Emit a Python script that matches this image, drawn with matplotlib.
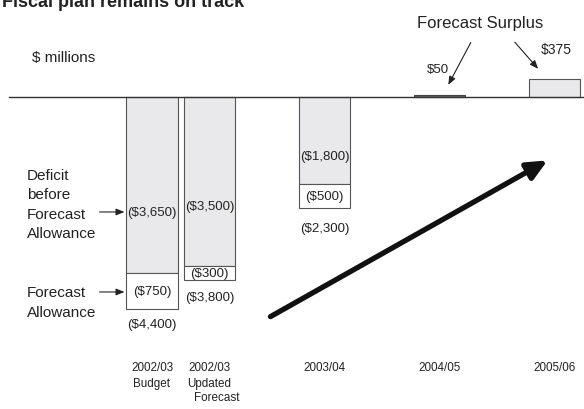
import numpy as np
import matplotlib
matplotlib.use('Agg')
import matplotlib.pyplot as plt

plt.rcParams['font.family'] = ['Liberation Sans', 'DejaVu Sans']

# Data ($ millions)
periods = ['2002/03\nBudget', '2002/03\nUpdated', '2003/04', '2004/05', '2005/06']
positions = [0, 0.5, 1.5, 2.5, 3.5]
deficit = [3650, 3500, 1800, 0, 0]
allowance = [750, 300, 500, 0, 0]
surplus = [0, 0, 0, 50, 375]

deficit_labels = ['($3,650)', '($3,500)', '($1,800)']
deficit_label_y = [-2386, -2262, -1224]
allowance_labels = ['($750)', '($300)', '($500)']
total_labels = ['($4,400)', '($3,800)', '($2,300)']
total_label_y = [-4710, -4150, -2718]
surplus_labels = ['', '', '', '$50', '$375']

fig = plt.figure(figsize=(5.84, 4.10), dpi=100)
ax = fig.add_axes([0, 0, 1, 1])
ax.set_xlim(-1.3217, 3.7565)
ax.set_ylim(-6474, 2033)
ax.axis('off')

w = 0.45
grey = '#e9e9ec'
edge = '#555555'
txt = '#222222'

# baseline
ax.plot([-1.243, 3.7565], [0, 0], color='#333333', lw=1.0, zorder=3)

dv = -np.array(deficit)
av = -np.array(allowance)
for i in range(3):
    ax.bar(positions[i], dv[i], width=w, color=grey, edgecolor=edge, lw=0.8, zorder=2)
    ax.bar(positions[i], av[i], bottom=dv[i], width=w, color='white', edgecolor=edge, lw=0.8, zorder=2)
    ax.text(positions[i], deficit_label_y[i], deficit_labels[i], ha='center', va='center', fontsize=9.5, color=txt)
    ax.text(positions[i], dv[i] + av[i] / 2, allowance_labels[i], ha='center', va='center', fontsize=9.5, color=txt)
    ax.text(positions[i], total_label_y[i], total_labels[i], ha='center', va='center', fontsize=9.5, color=txt)

# surpluses
ax.bar(positions[3], surplus[3], width=w, color='#666666', edgecolor='#444444', lw=0.8, zorder=2)
ax.bar(positions[4], surplus[4], width=w, color=grey, edgecolor=edge, lw=0.8, zorder=2)
ax.text(2.49, 581, surplus_labels[3], ha='center', va='center', fontsize=9.5, color=txt)
ax.text(3.52, 996, surplus_labels[4], ha='center', va='center', fontsize=10, color=txt)

ax.text(2.85, 1540, 'Forecast Surplus', ha='center', va='center', fontsize=12, color=txt)
thin = dict(arrowstyle='-|>,head_length=0.5,head_width=0.2', color=txt, lw=0.8)
ax.annotate('', xy=(2.565, 200), xytext=(2.783, 1180), arrowprops=thin)
ax.annotate('', xy=(3.374, 540), xytext=(3.139, 1180), arrowprops=thin)

# left annotations
ax.text(-1.09, -2220, 'Deficit\nbefore\nForecast\nAllowance', ha='left', va='center',
        fontsize=11, color=txt, linespacing=1.47)
ax.annotate('', xy=(-0.215, -2386), xytext=(-0.48, -2386), arrowprops=thin)
ax.text(-1.09, -4254, 'Forecast\nAllowance', ha='left', va='center',
        fontsize=11, color=txt, linespacing=1.47)
ax.annotate('', xy=(-0.215, -4046), xytext=(-0.48, -4046), arrowprops=thin)

ax.text(-1.04, 820, '$ millions', ha='left', va='center', fontsize=11, color=txt)

# period labels
for p, lab in zip(positions, periods):
    ax.text(p, -5480, lab, ha='center', va='top', fontsize=8.4, color=txt, linespacing=1.45)
ax.text(0.56, -6110, 'Forecast', ha='center', va='top', fontsize=8.4, color=txt)

# big trend arrow
ax.annotate('', xy=(3.461, -1287), xytext=(1.009, -4586),
            arrowprops=dict(arrowstyle='-|>,head_length=1.2,head_width=0.55', color='#111111', lw=3.8))

fig.text(0.004, 1 - 7 / 410, 'Fiscal plan remains on track', ha='left', va='baseline',
         fontsize=13, fontweight='bold', color=txt)

fig.savefig('out.png', dpi=100)
